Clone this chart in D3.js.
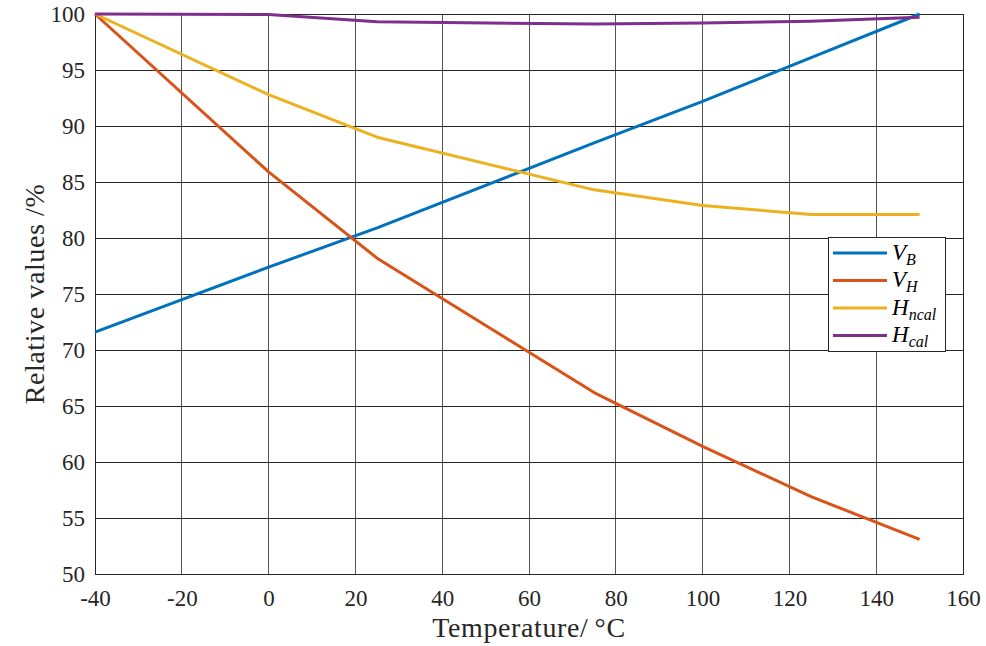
<!DOCTYPE html>
<html lang="en">
<head>
<meta charset="utf-8">
<title>Relative values vs temperature</title>
<style type="text/css">
	body {
		margin: 0;
		background-color: white;
	}
	.grid line {
		stroke: #262626;
		stroke-width: 1;
		shape-rendering: crispEdges;
	}
	.axis path,
	.axis line {
		fill: none;
		stroke: #262626;
		shape-rendering: crispEdges;
	}
	.axis text {
		font-size: 23px;
		fill: #262626;
	}
	.series {
		fill: none;
		stroke-width: 3;
		stroke-linejoin: round;
	}
	.label {
		font-size: 28px;
		letter-spacing: 0.6px;
		fill: #262626;
	}
	.legend text {
		font-size: 23px;
		font-style: italic;
		fill: #000;
	}
</style>
</head>
<body>
<script src="https://cdnjs.cloudflare.com/ajax/libs/d3/7.8.5/d3.min.js"></script>
<script type="text/javascript">

	// temperatures
	var temps = [-40, 0, 25, 75, 100, 125, 150];

	var vB    = [71.6, 77.4, 80.9, 88.5, 92.2, 96.1, 100];
	var vH    = [100, 85.9, 78.2, 66.2, 61.4, 56.9, 53.1];
	var hNcal = [100, 92.8, 89.0, 84.3, 82.9, 82.1, 82.1];
	var hCal  = [100, 99.95, 99.3, 99.1, 99.2, 99.35, 99.7];

	var xTicks = [-40, -20, 0, 20, 40, 60, 80, 100, 120, 140, 160];
	var yTicks = [50, 55, 60, 65, 70, 75, 80, 85, 90, 95, 100];

	var series = [
		{ name: "V", sub: "B", values: vB, color: "#0072BD" },
		{ name: "V", sub: "H", values: vH, color: "#D95319" },
		{ name: "H", sub: "ncal", values: hNcal, color: "#EDB120" },
		{ name: "H", sub: "cal", values: hCal, color: "#7E2F8E" }
	];

	var serif = "'Liberation Serif'";

	var fullwidth = 986;
	var fullheight = 646;
	var margin = { top: 14, right: 23, bottom: 72, left: 95 };
	var width = fullwidth - margin.left - margin.right;
	var height = fullheight - margin.top - margin.bottom;

	var svg = d3.select("body")
		.append("svg")
		.attr("width", fullwidth)
		.attr("height", fullheight)
		.append("g")
		.attr("transform", "translate(" + margin.left + "," + margin.top + ")");

	var xScale = d3.scaleLinear().domain([-40, 160]).range([0, width]);
	var yScale = d3.scaleLinear().domain([50, 100]).range([height, 0]);

	// grid
	var grid = svg.append("g").attr("class", "grid");
	grid.selectAll("line.v")
		.data(xTicks)
		.enter()
		.append("line")
		.attr("class", "v")
		.attr("x1", function(d) { return xScale(d); })
		.attr("x2", function(d) { return xScale(d); })
		.attr("y1", 0)
		.attr("y2", height)
		.style("stroke", "#555");
	grid.selectAll("line.h")
		.data(yTicks)
		.enter()
		.append("line")
		.attr("class", "h")
		.attr("x1", 0)
		.attr("x2", width)
		.attr("y1", function(d) { return yScale(d); })
		.attr("y2", function(d) { return yScale(d); });

	// axes - plain hyphen for negatives, like the original
	var fmt = function(d) { return String(d); };
	var xAxis = d3.axisBottom(xScale).tickValues(xTicks).tickFormat(fmt).tickSize(0).tickPadding(16);
	var yAxis = d3.axisLeft(yScale).tickValues(yTicks).tickFormat(fmt).tickSize(0).tickPadding(10);

	svg.append("g")
		.attr("class", "x axis")
		.attr("transform", "translate(0," + height + ")")
		.call(xAxis);

	svg.append("g")
		.attr("class", "y axis")
		.call(yAxis)
		.selectAll("text")
		.attr("dy", "0.32em");

	svg.append("g")
		.attr("class", "y axis")
		.attr("transform", "translate(" + width + ",0)")
		.call(d3.axisRight(yScale).tickValues([]).tickSize(0));

	svg.append("g")
		.attr("class", "x axis")
		.call(d3.axisTop(xScale).tickValues([]).tickSize(0));

	svg.selectAll(".axis text").style("font-family", serif);

	// lines
	var line = d3.line()
		.x(function(d, i) { return xScale(temps[i]); })
		.y(function(d) { return yScale(d); });

	svg.selectAll("path.series")
		.data(series)
		.enter()
		.append("path")
		.attr("class", "series")
		.attr("stroke", function(d) { return d.color; })
		.attr("d", function(d) { return line(d.values); });

	// axis labels
	svg.append("text")
		.attr("class", "label")
		.style("font-family", serif)
		.attr("x", width / 2)
		.attr("y", height + 63)
		.style("text-anchor", "middle")
		.text("Temperature/\u2009\u00B0C");

	svg.append("text")
		.attr("class", "label")
		.style("font-family", serif)
		.attr("transform", "translate(-51," + (height / 2) + ") rotate(-90)")
		.style("text-anchor", "middle")
		.text("Relative values /%");

	// legend
	var legend = svg.append("g")
		.attr("class", "legend")
		.attr("transform", "translate(" + (828 - margin.left) + "," + (237 - margin.top) + ")");

	legend.append("rect")
		.attr("width", 117)
		.attr("height", 114)
		.attr("fill", "white")
		.attr("stroke", "#262626")
		.attr("shape-rendering", "crispEdges");

	var items = legend.selectAll("g.item")
		.data(series)
		.enter()
		.append("g")
		.attr("class", "item")
		.attr("transform", function(d, i) { return "translate(0," + (16 + i * 27.5) + ")"; });

	items.append("line")
		.attr("x1", 5)
		.attr("x2", 59)
		.attr("stroke", function(d) { return d.color; })
		.attr("stroke-width", 3);

	var lt = items.append("text")
		.style("font-family", serif)
		.attr("x", 64)
		.attr("dy", "0.3em");
	lt.append("tspan").text(function(d) { return d.name; });
	lt.append("tspan")
		.attr("dy", 5)
		.style("font-size", "16px")
		.text(function(d) { return d.sub; });

</script>
</body>
</html>
